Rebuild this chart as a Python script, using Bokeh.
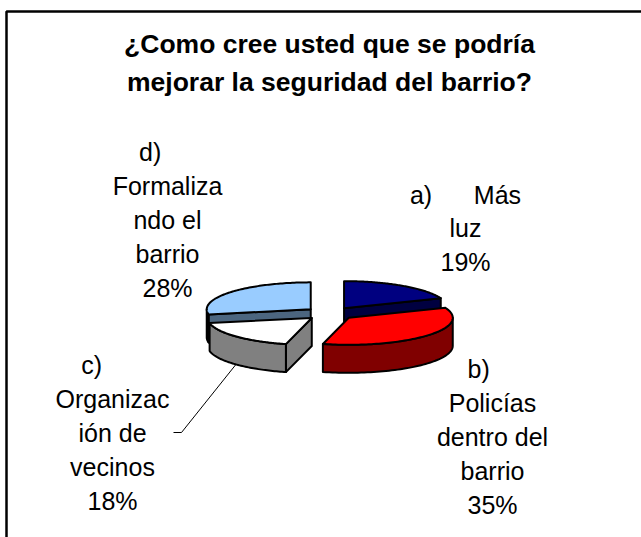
import numpy as np
from bokeh.plotting import figure
from bokeh.models import Range1d
from bokeh.embed import file_html
from bokeh.resources import INLINE
from bokeh.core.properties import value as V

NB = "\u00a0"
title_lines = ["¿Como cree usted que se podría", "mejorar la seguridad del barrio?"]
categories = ["a) Más luz", "b) Policías dentro del barrio", "c) Organización de vecinos", "d) Formalizando el barrio"]
values = [19, 35, 18, 28]
top_colors = ["#000080", "#FF0000", "#FFFFFF", "#99CCFF"]
side_colors = ["#000040", "#800000", "#808080", "#4C6680"]
label_a = ["a)" + NB * 6 + "Más", "luz", "19%"]
label_b = ["b)" + NB * 4, "Policías", "dentro del", "barrio", "35%"]
label_c = ["c)" + NB * 6, "Organizac", "ión de", "vecinos", "18%"]
label_d = ["d)" + NB * 5, "Formaliza", "ndo el", "barrio", "28%"]

W, H = 641, 537
p = figure(width=W, height=H, output_backend="svg", toolbar_location=None,
           x_range=Range1d(0, W), y_range=Range1d(H, 0), min_border=0)
p.axis.visible = False
p.grid.visible = False
p.outline_line_color = None
p.background_fill_color = "white"
p.border_fill_color = "white"

# frame: only the left and top rules are in view
p.line([6, 6, W], [H, 11, 11], line_color="black", line_width=2.5)

CX, CY, A, B, DEPTH, EXPL = 329.5, 313, 104, 27, 28, 25

def pt(a, t):
    return a[0] + A * np.sin(t), a[1] - B * np.cos(t)

def poly(xs, ys, c):
    p.patch(list(xs), list(ys), fill_color=c, line_color="black", line_width=2, line_join="round")

bounds = np.cumsum([0] + values) / sum(values) * 2 * np.pi
geo = []
for i in range(len(values)):
    t0, t1 = bounds[i], bounds[i + 1]
    m = (t0 + t1) / 2
    apex = (CX + EXPL * np.sin(m), CY - EXPL * B / A * np.cos(m))
    geo.append((t0, t1, apex))

def draw(i):
    t0, t1, apex = geo[i]
    side = side_colors[i]
    for t, normal in ((t1, t1 + np.pi / 2), (t0, t0 - np.pi / 2)):
        if np.cos(normal) < 0:
            ex, ey = pt(apex, t)
            poly([apex[0], ex, ex, apex[0]], [apex[1], ey, ey + DEPTH, apex[1] + DEPTH], side)
    lo, hi = max(t0, np.pi / 2), min(t1, 3 * np.pi / 2)
    if lo < hi:
        ts = np.linspace(lo, hi, 60)
        xs, ys = pt(apex, ts)
        poly(np.r_[xs, xs[::-1]], np.r_[ys, ys[::-1] + DEPTH], side)
    ts = np.linspace(t0, t1, 90)
    xs, ys = pt(apex, ts)
    poly(np.r_[apex[0], xs], np.r_[apex[1], ys], top_colors[i])

for i in (3, 2, 0, 1):
    draw(i)

lx, ly = pt(geo[2][2], (geo[2][0] + geo[2][1]) / 2)
p.line([lx, 181, 173], [ly + DEPTH, 432, 432], line_color="black", line_width=1)

def block(lines, x, y0, step, size, bold=False):
    ys = [y0 + k * step for k in range(len(lines))]
    p.text([x] * len(lines), ys, text=lines, text_align="center", text_baseline="middle",
           text_font=V("Liberation Sans"), text_font_size=size, text_color="black",
           text_font_style="bold" if bold else "normal")

block(title_lines, 329, 43, 38, "26.5px", True)
block(label_a, 465, 194, 33.5, "25px")
block(label_b, 492, 368, 34, "25px")
block(label_c, 112, 364, 34, "25px")
block(label_d, 167, 151, 34, "25px")

open("out.html", "w").write(file_html(p, INLINE))
